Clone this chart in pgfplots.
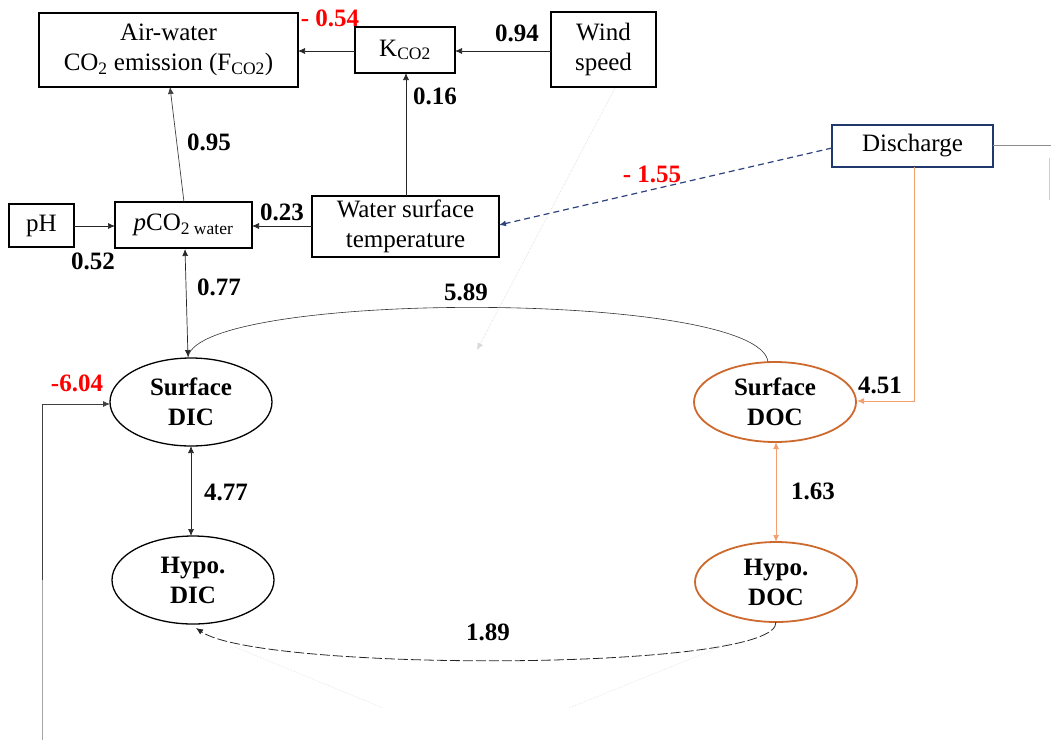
\documentclass[border=0pt]{standalone}
\usepackage{pgfplots}
\pgfplotsset{compat=1.18}
\usepackage{fontspec}
\setmainfont{Liberation Serif}
\usetikzlibrary{arrows.meta,shapes.geometric}
\definecolor{docorange}{RGB}{205,105,45}
\definecolor{lightorange}{RGB}{244,160,110}
\definecolor{navy}{RGB}{32,56,110}
\definecolor{dashblue}{RGB}{45,65,125}
\definecolor{pred}{RGB}{255,0,0}
\begin{document}
\begin{tikzpicture}[
  tip/.style={-{Latex[length=7pt,width=6pt]}},
  dtip/.style={{Latex[length=7pt,width=6pt]}-{Latex[length=7pt,width=6pt]}},
  box/.style={draw, line width=1.3pt, inner sep=0pt, align=center, font=\fontsize{25}{30}\selectfont},
  ell/.style={draw, ellipse, line width=1.3pt, inner sep=0pt, align=center, font=\fontsize{25}{30}\selectfont\bfseries},
  num/.style={font=\fontsize{25}{30}\selectfont\bfseries, inner sep=0pt},
]
\begin{axis}[
  width=1051pt, height=740pt, scale only axis,
  xmin=0, xmax=1051, ymin=0, ymax=740, y dir=reverse,
  hide axis, clip=false,
]
% ---- boxes
\node[box, minimum width=259pt, minimum height=74pt] at (axis cs:168.5,50) {Air-water\\CO\textsubscript{2} emission (F\textsubscript{CO2})};
\node[box, minimum width=100pt, minimum height=46pt] at (axis cs:405,50) {K\textsubscript{CO2}};
\node[box, minimum width=105pt, minimum height=75pt] at (axis cs:603.5,49.5) {Wind\\speed};
\node[box, draw=navy, minimum width=161pt, minimum height=42pt] at (axis cs:912.5,146) {Discharge};
\node[box, minimum width=65pt, minimum height=43pt] at (axis cs:41.5,225.5) {pH};
\node[box, minimum width=137pt, minimum height=46pt] at (axis cs:183.5,225) {\textit{p}CO\textsubscript{2 water}};
\node[box, minimum width=187pt, minimum height=61pt] at (axis cs:405.5,226.5) {Water surface\\temperature};
% ---- ellipses
\node[ell, minimum width=162pt, minimum height=88pt] at (axis cs:191,402) {Surface\\DIC};
\node[ell, minimum width=162pt, minimum height=88pt] at (axis cs:193,580) {Hypo.\\DIC};
\node[ell, draw=docorange, line width=1.8pt, minimum width=162pt, minimum height=80pt] at (axis cs:775,402) {Surface\\DOC};
\node[ell, draw=docorange, line width=1.8pt, minimum width=162pt, minimum height=80pt] at (axis cs:776,582) {Hypo.\\DOC};
% ---- straight connectors
\addplot[tip, black!85, line width=0.7pt] coordinates {(355,51) (298,51)};
\addplot[tip, black!85, line width=0.7pt] coordinates {(551,51) (455,51)};
\addplot[tip, black!85, line width=0.7pt] coordinates {(406,196) (406,73)};
\addplot[tip, black!75, line width=0.7pt] coordinates {(184,202) (170,87)};
\addplot[tip, black!85, line width=0.7pt] coordinates {(74,226) (115,226)};
\addplot[tip, black!85, line width=0.7pt] coordinates {(312,226) (252,226)};
\addplot[tip, dashblue, line width=1.2pt, dash pattern=on 6pt off 4pt] coordinates {(832,148) (499,225)};
\addplot[black!45, line width=0.8pt] coordinates {(993,145) (1051,145)};
\addplot[black!20, line width=0.8pt] coordinates {(1049,158) (1049,200)};
\addplot[tip, lightorange, line width=0.9pt] coordinates {(914,167) (914,401) (857,401)};
\addplot[dtip, black!85, line width=0.7pt] coordinates {(185,249) (188,357)};
\addplot[dtip, black!85, line width=0.7pt] coordinates {(191,446) (191,536)};
\addplot[dtip, lightorange, line width=1.0pt] coordinates {(776,442) (776,542)};
\addplot[black!35, line width=0.8pt] coordinates {(42,740) (42,580)};
\addplot[tip, black!75, line width=0.8pt] coordinates {(42,580) (42,404) (110,404)};
\addplot[-{Latex[length=7pt,width=6pt]}, black!15, line width=0.6pt, densely dotted] coordinates {(615,88) (477,350)};
\addplot[black!12, line width=0.6pt, densely dotted] coordinates {(235,647) (383,708)};
\addplot[black!12, line width=0.6pt, densely dotted] coordinates {(730,643) (569,708)};
% ---- curved connectors
\draw[black!80, line width=0.6pt] (axis cs:768,362) .. controls (axis cs:760,290) and (axis cs:200,290) .. (axis cs:188,357);
\draw[tip, black!85, line width=0.8pt, dash pattern=on 10pt off 3pt] (axis cs:776,622) .. controls (axis cs:780,672) and (axis cs:260,672) .. (axis cs:196,628);
% ---- coefficients
\node[num, text=pred] at (axis cs:330,18) {- 0.54};
\node[num] at (axis cs:517,33) {0.94};
\node[num] at (axis cs:435,96) {0.16};
\node[num] at (axis cs:209,142) {0.95};
\node[num] at (axis cs:282,212) {0.23};
\node[num] at (axis cs:93,261) {0.52};
\node[num] at (axis cs:219,287) {0.77};
\node[num, text=pred] at (axis cs:652,174) {- 1.55};
\node[num] at (axis cs:466,292) {5.89};
\node[num, text=pred] at (axis cs:77,383) {-6.04};
\node[num] at (axis cs:226,492) {4.77};
\node[num] at (axis cs:880,385) {4.51};
\node[num] at (axis cs:813,491) {1.63};
\node[num] at (axis cs:488,632) {1.89};
\end{axis}
\pgfresetboundingbox
\path[use as bounding box] (current axis.south west) rectangle (current axis.north east);
\end{tikzpicture}
\end{document}
